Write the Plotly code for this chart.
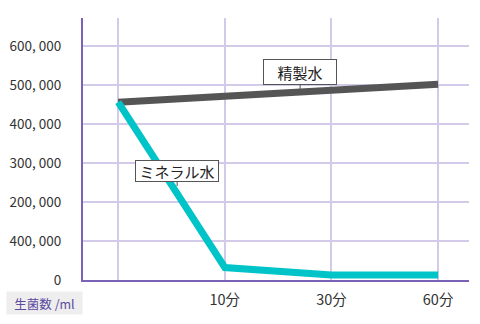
import plotly.graph_objects as go

categories = [0, 1, 2, 3]
x_tick_labels = ["", "10分", "30分", "60分"]
purified = [456000, 471000, 487000, 502000]
mineral = [456000, 32000, 13000, 13000]
y_tick_vals = [0, 100000, 200000, 300000, 400000, 500000, 600000]
y_tick_labels = ["0", "400, 000", "200, 000", "300, 000", "400, 000", "500, 000", "600, 000"]

FONT = "Noto Sans CJK JP"

fig = go.Figure()
fig.add_trace(go.Scatter(x=categories, y=purified, mode="lines",
                         line=dict(color="#555555", width=7), name="精製水"))
fig.add_trace(go.Scatter(x=categories, y=mineral, mode="lines",
                         line=dict(color="#00C4C8", width=7), name="ミネラル水"))

fig.update_layout(
    width=480, height=324,
    margin=dict(l=83, r=11, t=18, b=44),
    paper_bgcolor="white", plot_bgcolor="white",
    showlegend=False,
    font=dict(family=FONT, color="#333333", size=13),
)
fig.update_xaxes(
    range=[-0.33, 3.29], tickvals=categories, ticktext=x_tick_labels,
    showgrid=True, gridcolor="#D3C9E8", gridwidth=1.5,
    showline=True, linecolor="#7A62B5", linewidth=2,
    zeroline=False, ticks="", ticklabelstandoff=6,
    tickfont=dict(size=14.5, color="#333333"),
)
fig.update_yaxes(
    range=[0, 672000], tickvals=y_tick_vals, ticktext=y_tick_labels,
    showgrid=True, gridcolor="#D3C9E8", gridwidth=1.5,
    showline=True, linecolor="#7A62B5", linewidth=2,
    zeroline=False, ticks="", ticklabelstandoff=17,
    tickfont=dict(size=13.5, color="#333333"),
)

fig.add_annotation(x=1.706, y=489700, xref="x", yref="y", text="精製水",
                   showarrow=True, arrowhead=0, arrowwidth=1, arrowcolor="#555555",
                   ax=0, ay=-17, bgcolor="white", bordercolor="#555555", borderwidth=1,
                   borderpad=3, font=dict(size=15, color="#222222", family=FONT),
                   width=66, height=18)
fig.add_annotation(x=0.553, y=241000, xref="x", yref="y", text="ミネラル水",
                   showarrow=True, arrowhead=0, arrowwidth=1, arrowcolor="#555555",
                   ax=0, ay=-15, bgcolor="white", bordercolor="#555555", borderwidth=1,
                   borderpad=2, font=dict(size=15, color="#222222", family=FONT),
                   width=78, height=16)
fig.add_annotation(x=-0.1995, y=-0.134, xref="paper", yref="paper", text="生菌数 /ml",
                   xanchor="left", yanchor="bottom", showarrow=False,
                   bgcolor="#EEEEEE", borderpad=3, width=69, height=16,
                   font=dict(size=12.5, color="#5B4A9E", family=FONT))

fig.write_html("out.html")
